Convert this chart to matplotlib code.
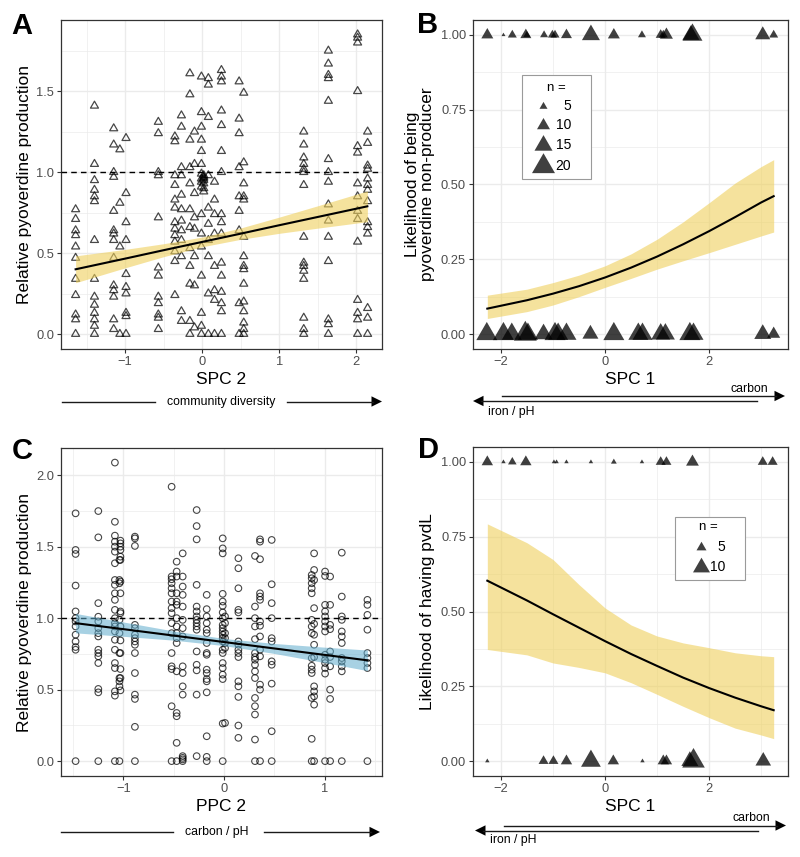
import numpy as np
import matplotlib
matplotlib.use('Agg')
import matplotlib.pyplot as plt
from matplotlib.path import Path
from matplotlib.lines import Line2D
from matplotlib.patches import Polygon, Rectangle
from matplotlib.ticker import FormatStrFormatter

plt.rcParams['font.family'] = ['Liberation Sans', 'DejaVu Sans']

# ---------------- data ----------------
# Panel A: SPC 2 vs relative pyoverdine production (columns of points)
a_x = [-1.645, -1.40, -1.15, -1.07, -0.99, -0.57, -0.355, -0.27, -0.16, -0.10,
       -0.01, 0.02, 0.08, 0.16, 0.25, 0.48, 0.54, 1.32, 1.64, 2.02, 2.15]
a_y = [
    [0.77, 0.71, 0.64, 0.61, 0.54, 0.47, 0.34, 0.24, 0.12, 0.09, 0.0],
    [1.41, 1.05, 0.95, 0.89, 0.85, 0.82, 0.58, 0.34, 0.23, 0.18, 0.13, 0.09, 0.05, 0.0],
    [1.27, 1.17, 1.00, 0.97, 0.76, 0.64, 0.62, 0.58, 0.47, 0.30, 0.27, 0.23, 0.09, 0.03],
    [1.14, 0.81, 0.54, 0.0],
    [1.21, 0.87, 0.69, 0.58, 0.37, 0.29, 0.25, 0.13, 0.11, 0.0],
    [1.31, 1.24, 1.00, 0.98, 0.72, 0.41, 0.36, 0.23, 0.19, 0.12, 0.10, 0.03],
    [1.22, 1.19, 0.98, 0.92, 0.83, 0.78, 0.69, 0.65, 0.61, 0.57, 0.51, 0.45, 0.24],
    [1.35, 1.28, 1.03, 0.98, 0.86, 0.77, 0.70, 0.64, 0.58, 0.48, 0.14, 0.08],
    [1.61, 1.48, 1.20, 1.03, 0.93, 0.77, 0.66, 0.53, 0.42, 0.31, 0.08, 0.0],
    [1.25, 1.05, 0.87, 0.72, 0.65, 0.48, 0.30, 0.04],
    [1.59, 1.37, 1.28, 1.20, 1.13, 1.05, 0.99, 0.96, 0.94, 0.91, 0.74, 0.62, 0.54, 0.36, 0.13, 0.05, 0.0],
    [0.97, 0.95, 0.93, 0.96, 0.98, 0.90, 0.88],
    [1.58, 1.54, 1.34, 0.98, 0.78, 0.68, 0.58, 0.48, 0.25, 0.0],
    [0.94, 0.83, 0.74, 0.62, 0.42, 0.27, 0.21, 0.0],
    [1.63, 1.59, 1.56, 1.38, 1.29, 1.13, 1.00, 0.74, 0.69, 0.62, 0.44, 0.36, 0.26, 0.19, 0.14, 0.0],
    [1.56, 1.33, 1.24, 1.03, 0.85, 0.76, 0.64, 0.19, 0.0],
    [1.49, 1.06, 0.93, 0.85, 0.83, 0.60, 0.48, 0.42, 0.40, 0.31, 0.20, 0.14, 0.07, 0.03, 0.0],
    [1.25, 1.17, 1.09, 1.05, 1.02, 1.00, 0.92, 0.60, 0.44, 0.42, 0.39, 0.34, 0.10, 0.03, 0.0],
    [1.75, 1.67, 1.60, 1.58, 1.44, 1.08, 1.00, 0.94, 0.80, 0.70, 0.60, 0.45, 0.09, 0.06, 0.0],
    [1.85, 1.83, 1.80, 1.50, 1.16, 1.12, 0.93, 0.85, 0.76, 0.71, 0.57, 0.21, 0.13, 0.09, 0.0],
    [1.25, 1.18, 1.04, 1.02, 0.96, 0.92, 0.89, 0.82, 0.69, 0.66, 0.62, 0.16, 0.10, 0.0],
]
a_fit_x = [-1.645, -1.0, -0.5, 0.0, 0.5, 1.0, 1.5, 2.147]
a_fit_y = [0.400, 0.466, 0.518, 0.569, 0.620, 0.672, 0.723, 0.789]
a_fit_lo = [0.317, 0.409, 0.478, 0.539, 0.585, 0.622, 0.654, 0.694]
a_fit_hi = [0.483, 0.523, 0.558, 0.599, 0.655, 0.722, 0.792, 0.884]

# Panel B: non-producer (1) / producer (0) counts per community
b_top_x = [-2.26, -1.95, -1.78, -1.52, -1.50, -1.17, -1.01, -0.96, -0.74, -0.27, 0.17,
           0.71, 1.07, 1.12, 1.18, 1.65, 1.68, 3.03, 3.24]
b_top_n = [9, 1, 6, 8, 4, 5, 6, 6, 8, 15, 9, 5, 7, 6, 10, 14, 17, 12, 6]
b_bot_x = [-2.27, -1.95, -1.79, -1.53, -1.48, -1.18, -0.96, -0.90, -0.74, -0.28, 0.17,
           0.64, 0.72, 1.07, 1.16, 1.63, 1.70, 3.03, 3.24]
b_bot_n = [18, 18, 17, 20, 17, 15, 18, 17, 17, 13, 18, 17, 17, 16, 16, 18, 17, 14, 10]
b_fit_x = [-2.26, -1.5, -1.0, -0.5, 0.0, 0.5, 1.0, 1.5, 2.0, 2.5, 3.0, 3.24]
b_fit_y = [0.085, 0.113, 0.135, 0.160, 0.189, 0.222, 0.259, 0.300, 0.344, 0.391, 0.440, 0.461]
b_fit_lo = [0.052, 0.075, 0.097, 0.125, 0.156, 0.186, 0.217, 0.245, 0.272, 0.300, 0.328, 0.341]
b_fit_hi = [0.130, 0.150, 0.172, 0.197, 0.228, 0.268, 0.317, 0.375, 0.439, 0.505, 0.560, 0.583]
b_legend_n = [5, 10, 15, 20]

# Panel C: PPC 2 vs relative pyoverdine production
c_x = [-1.476, -1.25, -1.085, -1.04, -1.03, -0.886, -0.521, -0.471, -0.411, -0.272, -0.172,
       -0.013, 0.01, 0.143, 0.308, 0.358, 0.474, 0.872, 0.896, 1.005, 1.055, 1.171, 1.426]
c_y = [
    [1.733, 1.477, 1.449, 1.228, 1.047, 1.0, 0.977, 0.942, 0.884, 0.837, 0.798, 0.779, 0.0],
    [1.749, 1.565, 1.105, 1.01, 0.977, 0.93, 0.895, 0.872, 0.779, 0.756, 0.733, 0.686, 0.505, 0.481, 0.0],
    [2.088, 1.674, 1.577, 1.535, 1.5, 1.465, 1.384, 1.267, 1.233, 1.174, 1.128, 1.058, 1.0, 0.965,
     0.942, 0.907, 0.849, 0.779, 0.686, 0.651, 0.488, 0.458, 0.0],
    [1.407, 1.267, 1.244, 0.988, 0.895, 0.756, 0.581, 0.558, 0.523, 0.0],
    [1.542, 1.523, 1.5, 1.477, 1.43, 1.407, 1.256, 1.174, 1.047, 1.035, 0.942, 0.844, 0.756, 0.644,
     0.581, 0.495],
    [1.57, 1.558, 1.505, 0.953, 0.93, 0.884, 0.86, 0.837, 0.814, 0.756, 0.616, 0.465, 0.435, 0.24, 0.0],
    [1.919, 1.291, 1.272, 1.244, 1.209, 1.174, 1.116, 1.07, 1.035, 0.965, 0.895, 0.756, 0.663, 0.644,
     0.384, 0.0],
    [1.395, 1.326, 1.291, 1.174, 1.116, 1.093, 1.0, 0.942, 0.895, 0.86, 0.826, 0.628, 0.337, 0.314,
     0.128, 0.0],
    [1.453, 1.291, 1.221, 1.163, 1.081, 0.988, 0.93, 0.872, 0.663, 0.616, 0.523, 0.465, 0.035, 0.023,
     0.012, 0.0],
    [1.756, 1.644, 1.551, 1.233, 1.081, 1.047, 1.012, 0.988, 0.965, 0.942, 0.919, 0.767, 0.674, 0.635,
     0.465, 0.035],
    [1.163, 1.063, 1.012, 0.965, 0.919, 0.895, 0.826, 0.756, 0.744, 0.64, 0.616, 0.574, 0.558, 0.481,
     0.174, 0.03, 0.0],
    [1.558, 1.488, 1.453, 1.17, 1.116, 1.086, 1.04, 1.0, 0.953, 0.93, 0.907, 0.884, 0.86, 0.837,
     0.779, 0.756, 0.686, 0.651, 0.605, 0.574, 0.263, 0.0],
    [1.012, 0.965, 0.895, 0.86, 0.826, 0.791, 0.267],
    [1.419, 1.349, 1.209, 1.058, 1.04, 0.837, 0.814, 0.779, 0.756, 0.728, 0.558, 0.523, 0.449, 0.249,
     0.163],
    [1.435, 1.081, 1.0, 0.942, 0.853, 0.756, 0.728, 0.709, 0.674, 0.628, 0.581, 0.442, 0.384, 0.326,
     0.151, 0.0],
    [1.551, 1.535, 1.412, 1.174, 1.151, 1.128, 0.977, 0.947, 0.872, 0.779, 0.733, 0.535, 0.5, 0.0],
    [1.547, 1.237, 1.105, 1.0, 0.86, 0.837, 0.698, 0.674, 0.542, 0.209, 0.0],
    [1.302, 1.279, 1.244, 1.209, 1.174, 0.988, 0.942, 0.895, 0.721, 0.667, 0.64, 0.616, 0.442, 0.156, 0.0],
    [1.453, 1.337, 1.267, 1.07, 0.96, 0.884, 0.814, 0.728, 0.523, 0.488, 0.453, 0.395, 0.0],
    [1.326, 1.295, 1.093, 1.047, 1.012, 0.977, 0.942, 0.907, 0.744, 0.709, 0.686, 0.651, 0.612, 0.0],
    [1.291, 1.093, 0.953, 0.923, 0.767, 0.728, 0.663, 0.5, 0.435, 0.0],
    [1.458, 1.151, 1.012, 0.988, 0.907, 0.872, 0.826, 0.721, 0.698, 0.663, 0.628, 0.0],
    [1.128, 1.093, 1.023, 0.919, 0.756, 0.721, 0.686, 0.651, 0.0],
]
c_fit_x = [-1.476, -1.0, -0.5, 0.0, 0.5, 1.0, 1.426]
c_fit_y = [0.965, 0.923, 0.878, 0.833, 0.788, 0.743, 0.705]
c_fit_lo = [0.897, 0.873, 0.846, 0.808, 0.753, 0.689, 0.633]
c_fit_hi = [1.033, 0.973, 0.910, 0.858, 0.823, 0.797, 0.777]

# Panel D: pvdL present (1) / absent (0)
d_top_x = [-2.26, -1.95, -1.78, -1.52, -0.98, -0.93, -0.74, -0.27, 0.17, 0.71, 1.07, 1.18, 1.68, 3.03, 3.22]
d_top_n = [6, 1, 4, 6, 1, 1, 1, 1, 2, 1, 5, 5, 7, 5, 5]
d_bot_x = [-2.26, -1.18, -0.99, -0.74, -0.27, 0.16, 0.72, 1.12, 1.18, 1.63, 1.70, 3.04]
d_bot_n = [1, 5, 5, 6, 12, 6, 1, 6, 6, 10, 14, 9]
d_fit_x = [-2.26, -1.5, -1.0, -0.5, 0.0, 0.5, 1.0, 1.5, 2.0, 2.5, 3.0, 3.24]
d_fit_y = [0.603, 0.537, 0.491, 0.446, 0.401, 0.358, 0.318, 0.279, 0.244, 0.212, 0.183, 0.170]
d_fit_lo = [0.373, 0.355, 0.328, 0.313, 0.295, 0.262, 0.223, 0.183, 0.145, 0.110, 0.087, 0.075]
d_fit_hi = [0.793, 0.730, 0.674, 0.590, 0.512, 0.455, 0.418, 0.395, 0.379, 0.362, 0.352, 0.349]
d_legend_n = [5, 10]

# ---------------- figure ----------------
W, H = 800, 857
fig = plt.figure(figsize=(W / 100, H / 100), dpi=100)


def fx(x):
    return x / W


def fy(y):
    return 1 - y / H


def ax_at(l, t, r, b):
    return fig.add_axes([l / W, 1 - b / H, (r - l) / W, (b - t) / H])


TRI = Path([(0, 1), (0.866, -0.5), (-0.866, -0.5), (0, 1)],
           [Path.MOVETO, Path.LINETO, Path.LINETO, Path.CLOSEPOLY])

YELLOW = '#EFD05C'
BLUE = '#5FACCD'
TICKC = '#4D4D4D'


def style(ax, xlim, ylim, xt, xminor, yt, yminor, yfmt):
    ax.set_xlim(xlim)
    ax.set_ylim(ylim)
    ax.set_xticks(xt)
    ax.set_xticks(xminor, minor=True)
    ax.set_yticks(yt)
    ax.set_yticks(yminor, minor=True)
    ax.yaxis.set_major_formatter(FormatStrFormatter(yfmt))
    ax.grid(True, which='major', color='#EBEBEB', lw=1.0)
    ax.grid(True, which='minor', color='#EBEBEB', lw=0.5)
    ax.set_axisbelow(True)
    for s in ax.spines.values():
        s.set_color('#333333')
        s.set_linewidth(0.9)
    ax.tick_params(which='major', length=3, width=0.8, color='#333333',
                   labelsize=9.3, labelcolor=TICKC, pad=2)
    ax.tick_params(which='minor', length=0)


def tri_ms(w_px):
    return w_px / 0.866 * 0.72


def tri_s(w_px):
    return tri_ms(w_px) ** 2


# ---- Panel A ----
axA = ax_at(61, 20, 382, 349)
style(axA, (-1.835, 2.337), (-0.0925, 1.94), [-1, 0, 1, 2], [-1.5, -0.5, 0.5, 1.5],
      [0, 0.5, 1.0, 1.5], [0.25, 0.75, 1.25, 1.75], '%.1f')
for x, ys in zip(a_x, a_y):
    axA.scatter(np.full(len(ys), x), ys, marker=TRI, s=tri_s(8.0), facecolors='none',
                edgecolors=(0, 0, 0, 0.72), linewidths=0.9, zorder=2)
axA.axhline(1.0, color='black', lw=1.0, ls=(0, (4, 3)), zorder=3)
axA.fill_between(a_fit_x, a_fit_lo, a_fit_hi, color=YELLOW, alpha=0.6, lw=0, zorder=4)
axA.plot(a_fit_x, a_fit_y, color='black', lw=1.5, zorder=5)
axA.set_xlabel('SPC 2', fontsize=12.5, labelpad=3)
axA.set_ylabel('Relative pyoverdine production', fontsize=12.5, labelpad=3)

# ---- Panel B ----
axB = ax_at(473, 20, 788, 349)
style(axB, (-2.535, 3.515), (-0.05, 1.05), [-2, 0, 2], [-1, 1, 3],
      [0, 0.25, 0.5, 0.75, 1.0], [0.125, 0.375, 0.625, 0.875], '%.2f')


def sizeB(n):
    return 3.0 + 1.0 * n


def sizeD(n):
    return 3.0 + 1.4 * n


axB.scatter(b_top_x, np.ones(len(b_top_x)), marker=TRI,
            s=[tri_s(sizeB(n)) for n in b_top_n], color='black', alpha=0.75, lw=0, zorder=3,
            clip_on=False)
axB.scatter(b_bot_x, np.zeros(len(b_bot_x)), marker=TRI,
            s=[tri_s(sizeB(n)) for n in b_bot_n], color='black', alpha=0.75, lw=0, zorder=3,
            clip_on=False)
axB.fill_between(b_fit_x, b_fit_lo, b_fit_hi, color=YELLOW, alpha=0.6, lw=0, zorder=4)
axB.plot(b_fit_x, b_fit_y, color='black', lw=1.5, zorder=5)
axB.set_xlabel('SPC 1', fontsize=12.5, labelpad=3)
axB.set_ylabel('Likelihood of being\npyoverdine non-producer', fontsize=12.5, labelpad=4,
               linespacing=1.05)

# ---- Panel C ----
axC = ax_at(61, 448, 382, 776)
style(axC, (-1.621, 1.571), (-0.104, 2.19), [-1, 0, 1], [-1.5, -0.5, 0.5, 1.5],
      [0, 0.5, 1.0, 1.5, 2.0], [0.25, 0.75, 1.25, 1.75], '%.1f')
for x, ys in zip(c_x, c_y):
    axC.scatter(np.full(len(ys), x), ys, marker='o', s=(6.6 * 0.72) ** 2, facecolors='none',
                edgecolors=(0, 0, 0, 0.72), linewidths=0.8, zorder=2)
axC.axhline(1.0, color='black', lw=1.0, ls=(0, (4, 3)), zorder=3)
axC.fill_between(c_fit_x, c_fit_lo, c_fit_hi, color=BLUE, alpha=0.55, lw=0, zorder=4)
axC.plot(c_fit_x, c_fit_y, color='black', lw=1.5, zorder=5)
axC.set_xlabel('PPC 2', fontsize=12.5, labelpad=3)
axC.set_ylabel('Relative pyoverdine production', fontsize=12.5, labelpad=3)

# ---- Panel D ----
axD = ax_at(473, 447, 788, 776)
style(axD, (-2.535, 3.515), (-0.05, 1.05), [-2, 0, 2], [-1, 1, 3],
      [0, 0.25, 0.5, 0.75, 1.0], [0.125, 0.375, 0.625, 0.875], '%.2f')
axD.scatter(d_top_x, np.ones(len(d_top_x)), marker=TRI,
            s=[tri_s(sizeD(n)) for n in d_top_n], color='black', alpha=0.75, lw=0, zorder=3,
            clip_on=False)
axD.scatter(d_bot_x, np.zeros(len(d_bot_x)), marker=TRI,
            s=[tri_s(sizeD(n)) for n in d_bot_n], color='black', alpha=0.75, lw=0, zorder=3,
            clip_on=False)
axD.fill_between(d_fit_x, d_fit_lo, d_fit_hi, color=YELLOW, alpha=0.6, lw=0, zorder=4)
axD.plot(d_fit_x, d_fit_y, color='black', lw=1.5, zorder=5)
axD.set_xlabel('SPC 1', fontsize=12.5, labelpad=3)
axD.set_ylabel('Likelihood of having pvdL', fontsize=12.5, labelpad=4)


# ---- manual legends (figure-level artists so they sit above the panels) ----
def legend_box(l, t, r, b, title_xy, tri_x, ys, lab_x, ns, sizefn):
    fig.add_artist(Rectangle((fx(l), fy(b)), fx(r) - fx(l), fy(t) - fy(b), transform=fig.transFigure,
                             facecolor='white', edgecolor='#9A9A9A', lw=0.8, zorder=10))
    fig.text(fx(title_xy[0]), fy(title_xy[1]), 'n =', ha='center', va='center', fontsize=9.5,
             zorder=11)
    for n, y in zip(ns, ys):
        fig.add_artist(Line2D([fx(tri_x)], [fy(y)], ls='none', marker=TRI,
                              markersize=tri_ms(sizefn(n)), markerfacecolor=(0, 0, 0, 0.75),
                              markeredgewidth=0, transform=fig.transFigure, zorder=12))
        fig.text(fx(lab_x), fy(y), str(n), ha='right', va='center', fontsize=10, zorder=11)


legend_box(522, 75, 591, 179, (556, 88), 543, [106, 125, 145, 166], 571, b_legend_n, sizeB)
legend_box(675, 517, 745, 580, (708, 527), 701, [547, 567], 725, d_legend_n, sizeD)

# ---- panel letters ----
for lab, x, y in [('A', 22, 26), ('B', 428, 25), ('C', 22, 451), ('D', 428, 450)]:
    fig.text(fx(x), fy(y), lab, ha='center', va='center', fontsize=21, fontweight='bold')


# ---- direction arrows ----
def hline(x1, x2, y, lw=1.0):
    fig.add_artist(Line2D([fx(x1), fx(x2)], [fy(y), fy(y)], color='#1a1a1a', lw=lw,
                          transform=fig.transFigure))


def head(tip, y, d, L=10.5, hw=5.2):
    fig.add_artist(Polygon([(fx(tip), fy(y)), (fx(tip - d * L), fy(y - hw)), (fx(tip - d * L), fy(y + hw))],
                           closed=True, color='black', lw=0, transform=fig.transFigure))


# A
hline(62, 155, 401.5)
hline(287, 373, 401.5)
head(382, 401.5, 1)
fig.text(fx(221), fy(401.5), 'community diversity', ha='center', va='center', fontsize=8.8)
# B
hline(502, 776, 396)
head(785, 396, 1)
fig.text(fx(749), fy(389), 'carbon', ha='center', va='center', fontsize=8.8)
hline(481, 757, 401)
head(473, 401, -1)
fig.text(fx(511), fy(412), 'iron / pH', ha='center', va='center', fontsize=8.8)
# C
hline(61, 173, 832)
hline(264, 371, 832)
head(380, 832, 1)
fig.text(fx(217), fy(832), 'carbon / pH', ha='center', va='center', fontsize=8.8)
# D
hline(504, 777, 825.5)
head(786, 825.5, 1)
fig.text(fx(751), fy(818), 'carbon', ha='center', va='center', fontsize=8.8)
hline(483, 758, 830.5)
head(475, 830.5, -1)
fig.text(fx(513), fy(840), 'iron / pH', ha='center', va='center', fontsize=8.8)

fig.savefig('out.png', dpi=100)
